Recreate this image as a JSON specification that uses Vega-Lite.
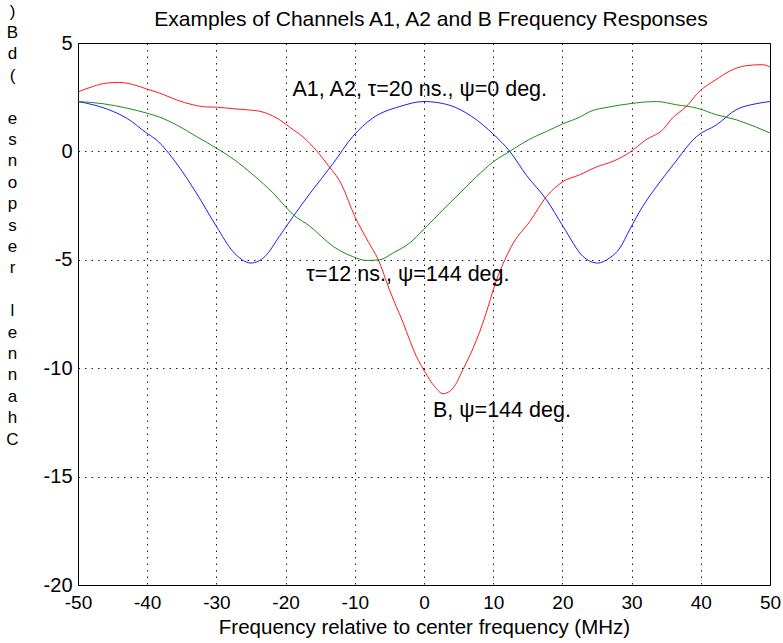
{
  "$schema": "https://vega.github.io/schema/vega-lite/v6.json",
  "width": 692,
  "height": 542,
  "autosize": {"type": "none"},
  "padding": {"left": 78, "top": 43, "right": 13, "bottom": 58},
  "background": "white",
  "config": {
    "view": {"stroke": "black", "strokeWidth": 1},
    "font": "Liberation Sans",
    "axis": {"labelColor": "black", "titleColor": "black", "titleFontWeight": "normal", "labelFont": "Liberation Sans", "titleFont": "Liberation Sans", "domain": false, "ticks": false, "grid": true, "gridColor": "black", "gridDash": [1.5, 5], "gridOpacity": 0.9, "gridWidth": 1}
  },
  "title": {"text": "Examples of Channels A1, A2 and B Frequency Responses", "fontSize": 21, "fontWeight": "normal", "font": "Liberation Sans", "color": "black", "anchor": "middle", "baseline": "alphabetic", "offset": -45, "dx": 7},
  "datasets": {
    "curves": [
      {"f": -50, "db": 2.3, "s": "A"}, {"f": -47.8, "db": 2.15, "s": "A"}, {"f": -44.9, "db": 1.84, "s": "A"}, {"f": -43, "db": 1.54, "s": "A"}, {"f": -40.1, "db": 0.85, "s": "A"}, {"f": -38.7, "db": 0.54, "s": "A"}, {"f": -35.8, "db": -0.54, "s": "A"}, {"f": -32.9, "db": -1.92, "s": "A"}, {"f": -30, "db": -3.46, "s": "A"}, {"f": -27.6, "db": -4.62, "s": "A"}, {"f": -25, "db": -5.15, "s": "A"}, {"f": -23, "db": -4.85, "s": "A"}, {"f": -20.9, "db": -3.92, "s": "A"}, {"f": -18.9, "db": -3.0, "s": "A"}, {"f": -16.5, "db": -1.95, "s": "A"}, {"f": -13.1, "db": -0.54, "s": "A"}, {"f": -10.3, "db": 0.69, "s": "A"}, {"f": -7.4, "db": 1.54, "s": "A"}, {"f": -3.5, "db": 2.07, "s": "A"}, {"f": 0, "db": 2.3, "s": "A"}, {"f": 3.5, "db": 2.15, "s": "A"}, {"f": 6.9, "db": 1.61, "s": "A"}, {"f": 10.1, "db": 0.77, "s": "A"}, {"f": 12.4, "db": 0.0, "s": "A"}, {"f": 14.8, "db": -1.1, "s": "A"}, {"f": 17.7, "db": -2.23, "s": "A"}, {"f": 20.1, "db": -3.46, "s": "A"}, {"f": 23, "db": -4.85, "s": "A"}, {"f": 25.1, "db": -5.15, "s": "A"}, {"f": 26.8, "db": -4.92, "s": "A"}, {"f": 28.3, "db": -4.46, "s": "A"}, {"f": 29.7, "db": -3.62, "s": "A"}, {"f": 31.6, "db": -2.54, "s": "A"}, {"f": 33.6, "db": -1.62, "s": "A"}, {"f": 36, "db": -0.62, "s": "A"}, {"f": 39.4, "db": 0.69, "s": "A"}, {"f": 42.3, "db": 1.23, "s": "A"}, {"f": 45.1, "db": 1.92, "s": "A"}, {"f": 48, "db": 2.2, "s": "A"}, {"f": 50, "db": 2.3, "s": "A"},
      {"f": -50, "db": 2.74, "s": "B"}, {"f": -47.8, "db": 3.0, "s": "B"}, {"f": -45.9, "db": 3.15, "s": "B"}, {"f": -44, "db": 3.18, "s": "B"}, {"f": -42, "db": 3.08, "s": "B"}, {"f": -40.1, "db": 2.88, "s": "B"}, {"f": -38.2, "db": 2.69, "s": "B"}, {"f": -35.8, "db": 2.38, "s": "B"}, {"f": -33.4, "db": 2.15, "s": "B"}, {"f": -31.4, "db": 2.05, "s": "B"}, {"f": -30, "db": 2.04, "s": "B"}, {"f": -27.6, "db": 1.97, "s": "B"}, {"f": -25.7, "db": 1.92, "s": "B"}, {"f": -23.7, "db": 1.85, "s": "B"}, {"f": -21.3, "db": 1.54, "s": "B"}, {"f": -18.9, "db": 1.0, "s": "B"}, {"f": -18, "db": 0.8, "s": "B"}, {"f": -16, "db": 0.2, "s": "B"}, {"f": -14.1, "db": -0.54, "s": "B"}, {"f": -11.9, "db": -1.54, "s": "B"}, {"f": -10, "db": -3.0, "s": "B"}, {"f": -8, "db": -4.2, "s": "B"}, {"f": -6.6, "db": -5.0, "s": "B"}, {"f": -5, "db": -6.38, "s": "B"}, {"f": -3, "db": -7.92, "s": "B"}, {"f": -1.1, "db": -9.46, "s": "B"}, {"f": 0.1, "db": -10.15, "s": "B"}, {"f": 1.55, "db": -10.85, "s": "B"}, {"f": 2.75, "db": -11.18, "s": "B"}, {"f": 4.2, "db": -10.92, "s": "B"}, {"f": 5.6, "db": -10.08, "s": "B"}, {"f": 7.6, "db": -8.69, "s": "B"}, {"f": 8.5, "db": -7.92, "s": "B"}, {"f": 10.5, "db": -5.92, "s": "B"}, {"f": 12.9, "db": -4.23, "s": "B"}, {"f": 15.3, "db": -3.23, "s": "B"}, {"f": 17.7, "db": -2.08, "s": "B"}, {"f": 20.1, "db": -1.39, "s": "B"}, {"f": 22.5, "db": -1.08, "s": "B"}, {"f": 24.9, "db": -0.72, "s": "B"}, {"f": 27.3, "db": -0.46, "s": "B"}, {"f": 29.7, "db": -0.05, "s": "B"}, {"f": 32.1, "db": 0.54, "s": "B"}, {"f": 34.5, "db": 1.0, "s": "B"}, {"f": 35.9, "db": 1.54, "s": "B"}, {"f": 37.9, "db": 2.07, "s": "B"}, {"f": 39.8, "db": 2.77, "s": "B"}, {"f": 42.2, "db": 3.31, "s": "B"}, {"f": 44.1, "db": 3.69, "s": "B"}, {"f": 46.5, "db": 3.95, "s": "B"}, {"f": 48.9, "db": 4.0, "s": "B"}, {"f": 50, "db": 3.89, "s": "B"},
      {"f": -50, "db": 2.3, "s": "C"}, {"f": -46.4, "db": 2.2, "s": "C"}, {"f": -43, "db": 2.0, "s": "C"}, {"f": -40.1, "db": 1.77, "s": "C"}, {"f": -38.2, "db": 1.58, "s": "C"}, {"f": -35.8, "db": 1.23, "s": "C"}, {"f": -32.9, "db": 0.69, "s": "C"}, {"f": -30, "db": 0.15, "s": "C"}, {"f": -27.1, "db": -0.46, "s": "C"}, {"f": -24.7, "db": -1.08, "s": "C"}, {"f": -21.8, "db": -1.92, "s": "C"}, {"f": -18.9, "db": -2.92, "s": "C"}, {"f": -16.5, "db": -3.45, "s": "C"}, {"f": -13.1, "db": -4.39, "s": "C"}, {"f": -10.3, "db": -4.85, "s": "C"}, {"f": -8.3, "db": -5.03, "s": "C"}, {"f": -6.4, "db": -5.0, "s": "C"}, {"f": -4.5, "db": -4.69, "s": "C"}, {"f": -2.1, "db": -4.23, "s": "C"}, {"f": -0.1, "db": -3.62, "s": "C"}, {"f": 2.75, "db": -2.69, "s": "C"}, {"f": 5.2, "db": -1.92, "s": "C"}, {"f": 7.6, "db": -1.16, "s": "C"}, {"f": 10.1, "db": -0.46, "s": "C"}, {"f": 12.4, "db": 0.0, "s": "C"}, {"f": 15.3, "db": 0.57, "s": "C"}, {"f": 17.7, "db": 0.92, "s": "C"}, {"f": 20.1, "db": 1.28, "s": "C"}, {"f": 22.5, "db": 1.58, "s": "C"}, {"f": 24, "db": 1.84, "s": "C"}, {"f": 26.8, "db": 2.05, "s": "C"}, {"f": 29.7, "db": 2.2, "s": "C"}, {"f": 33.6, "db": 2.3, "s": "C"}, {"f": 36.5, "db": 2.15, "s": "C"}, {"f": 39.4, "db": 2.0, "s": "C"}, {"f": 42.25, "db": 1.69, "s": "C"}, {"f": 45.1, "db": 1.46, "s": "C"}, {"f": 48, "db": 1.12, "s": "C"}, {"f": 50, "db": 0.85, "s": "C"}
    ],
    "labels": [
      {"f": -19.0, "db": 2.54, "label": "A1, A2, τ=20 ns., ψ=0 deg."},
      {"f": -17.0, "db": -5.97, "label": "τ=12 ns., ψ=144 deg."},
      {"f": 1.3, "db": -12.23, "label": "B, ψ=144 deg."}
    ]
  },
  "layer": [
    {
      "data": {"name": "curves"},
      "mark": {"type": "line", "strokeWidth": 0.9, "interpolate": "monotone", "clip": true},
      "encoding": {
        "x": {"field": "f", "type": "quantitative", "scale": {"domain": [-50, 50], "nice": false, "zero": false},
          "axis": {"values": [-50, -40, -30, -20, -10, 0, 10, 20, 30, 40, 50], "labelExpr": "toString(datum.value)", "title": "Frequency relative to center frequency (MHz)", "labelFontSize": 19, "labelPadding": 8, "titleFontSize": 20.5, "titlePadding": 5, "labelFlush": false}},
        "y": {"field": "db", "type": "quantitative", "scale": {"domain": [-20, 5], "nice": false, "zero": false},
          "axis": {"values": [-20, -15, -10, -5, 0, 5], "labelExpr": "toString(datum.value)", "labelFontSize": 20, "labelPadding": 6, "labelFlush": false,
            "title": [")", "B", "d", "(", "\u200b", "e", "s", "n", "o", "p", "s", "e", "r", "\u200b", "l", "e", "n", "n", "a", "h", "C"],
            "titleAngle": 0, "titleFontSize": 17, "titleLineHeight": 21.4, "titleAlign": "center", "titleBaseline": "alphabetic", "titleX": -66, "titleY": -26.9}},
        "color": {"field": "s", "type": "nominal", "scale": {"domain": ["A", "B", "C"], "range": ["#0000ff", "#ff0000", "#008000"]}, "legend": null}
      }
    },
    {
      "data": {"name": "labels"},
      "mark": {"type": "text", "align": "left", "baseline": "alphabetic", "fontSize": 21.5, "font": "Liberation Sans", "color": "black"},
      "encoding": {
        "x": {"field": "f", "type": "quantitative"},
        "y": {"field": "db", "type": "quantitative"},
        "text": {"field": "label"}
      }
    }
  ]
}
